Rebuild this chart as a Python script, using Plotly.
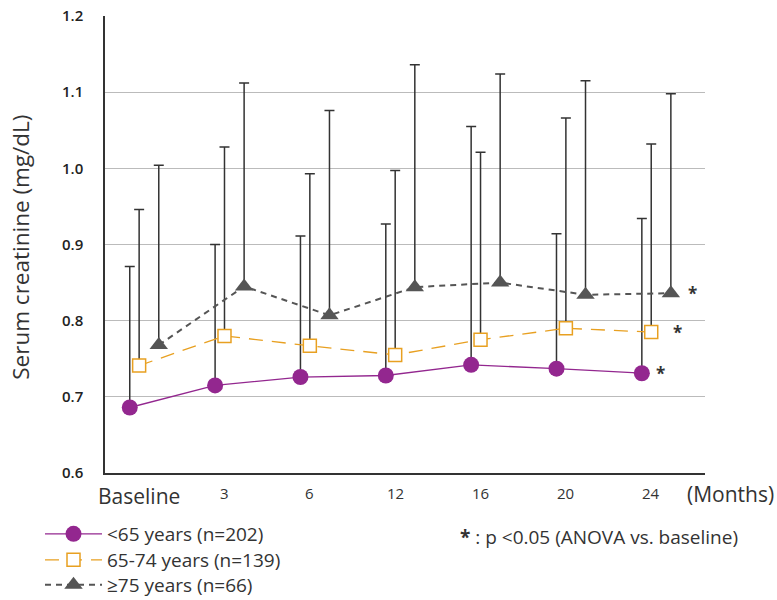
import plotly.graph_objects as go

# ---- data ----
months = ["Baseline", "3", "6", "12", "16", "20", "24"]
under65_mean = [0.686, 0.715, 0.726, 0.728, 0.742, 0.737, 0.731]
under65_top = [0.871, 0.900, 0.911, 0.927, 1.055, 0.914, 0.934]
mid_mean = [0.741, 0.780, 0.767, 0.755, 0.775, 0.790, 0.785]
mid_top = [0.946, 1.028, 0.993, 0.997, 1.021, 1.066, 1.032]
over75_mean = [0.768, 0.845, 0.807, 0.844, 0.850, 0.834, 0.836]
over75_top = [1.004, 1.112, 1.076, 1.136, 1.124, 1.115, 1.098]
yticks = [0.6, 0.7, 0.8, 0.9, 1.0, 1.1, 1.2]
names = ["&lt;65 years (n=202)", "65-74 years (n=139)", "≥75 years (n=66)"]

FONT = "Open Sans"
idx = list(range(len(months)))
off = {"a": -0.11, "b": 0.0, "c": 0.23}

fig = go.Figure()

def add(xoff, mean, top, name, color, dash, width, symbol, size, fill, lw, leg):
    xs = [i + xoff for i in idx]
    fig.add_trace(go.Scatter(
        x=xs, y=mean, name=name, mode="lines+markers", legend=leg,
        line=dict(color=color, dash=dash, width=width),
        marker=dict(symbol=symbol, size=size, color=fill,
                    line=dict(color=color, width=lw)),
        error_y=dict(type="data", symmetric=False,
                     array=[t - m for t, m in zip(top, mean)],
                     arrayminus=[0] * len(mean),
                     color="#333333", thickness=1.5, width=5),
    ))

add(off["a"], under65_mean, under65_top, names[0], "#93278F", "solid", 1.3,
    "circle", 16, "#93278F", 0, "legend")
add(off["b"], mid_mean, mid_top, names[1], "#E8A021", "14px,9px", 1.3,
    "square", 13, "white", 1.5, "legend2")
add(off["c"], over75_mean, over75_top, names[2], "#555555", "6px,5px", 2,
    "triangle-up", 16, "#555555", 0, "legend3")

# significance asterisks next to the last points
for xo, mv, dx in [(off["a"], under65_mean[-1], 0.22), (off["b"], mid_mean[-1], 0.31),
                   (off["c"], over75_mean[-1], 0.25)]:
    fig.add_annotation(x=idx[-1] + xo + dx, y=mv, text="<b>*</b>", showarrow=False,
                       font=dict(family=FONT, size=17, color="#333"),
                       xanchor="center", yanchor="middle")

# x tick labels
for i, m in zip(idx, months):
    big = (m == "Baseline")
    fig.add_annotation(x=i, xref="x", y=-0.050 if big else -0.044, yref="paper",
                       text=m, showarrow=False, xanchor="center", yanchor="middle",
                       font=dict(family=FONT, size=21 if big else 15, color="#333"))
fig.add_annotation(x=1.042, xref="paper", y=-0.046, yref="paper", text="(Months)",
                   showarrow=False, xanchor="center", yanchor="middle",
                   font=dict(family=FONT, size=21, color="#333"))
fig.add_annotation(x=0.588, xref="paper", y=-0.140, yref="paper",
                   text="<b>*</b> : p &lt;0.05 (ANOVA vs. baseline)",
                   showarrow=False, xanchor="left", yanchor="middle",
                   font=dict(family=FONT, size=19, color="#333"))
# y-axis title
fig.add_annotation(x=-0.14, xref="paper", y=0.495, yref="paper",
                   text="Serum creatinine (mg/dL)", textangle=-90, showarrow=False,
                   xanchor="center", yanchor="middle",
                   font=dict(family=FONT, size=22.5, color="#333"))

def leg(top):
    return dict(xref="container", yref="container", x=40 / 777, y=1 - top / 600,
                xanchor="left", yanchor="top",
                font=dict(family=FONT, size=19, color="#333"),
                itemwidth=57, bgcolor="rgba(0,0,0,0)")

fig.update_layout(
    width=777, height=600,
    margin=dict(l=105, r=72, t=16, b=127, autoexpand=False),
    plot_bgcolor="white", paper_bgcolor="white",
    font=dict(family=FONT, color="#333"),
    showlegend=True,
    legend=leg(515), legend2=leg(541), legend3=leg(566),
    xaxis=dict(range=[-0.40, 6.63], showgrid=False, zeroline=False,
               showticklabels=False, ticks="", showline=True, automargin=False,
               linecolor="#333", linewidth=1.5),
    yaxis=dict(range=[0.6, 1.2], tickvals=yticks, automargin=False,
               ticktext=[f"{v:.1f}" for v in yticks],
               showgrid=True, gridcolor="#BBBBBB", gridwidth=1.2, zeroline=False,
               showline=True, linecolor="#333", linewidth=1.5, ticks="",
               ticklabelstandoff=17,
               tickfont=dict(family=FONT, size=15, color="#222", weight=600)),
)

fig.write_html("out.html")
